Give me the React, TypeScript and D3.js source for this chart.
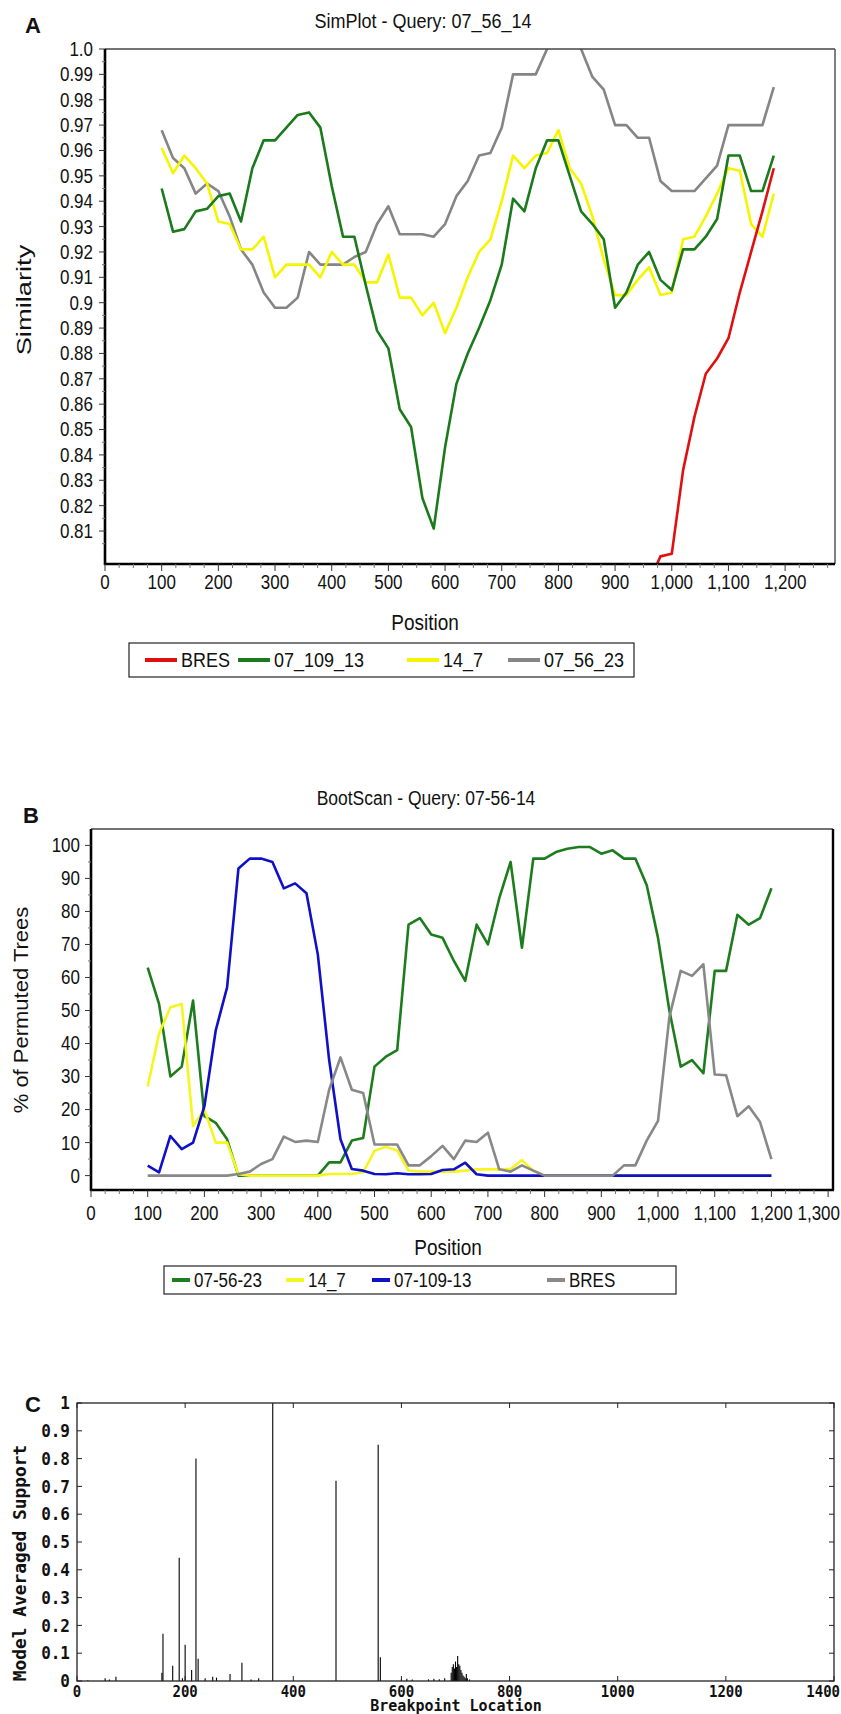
import React from 'react';
import * as d3 from 'd3';

const SANS = '"Liberation Sans", Arial, sans-serif';
const MONO = '"DejaVu Sans Mono", "Liberation Mono", monospace';

// ---------- A: SimPlot ----------
const simPositions = [100, 120, 140, 160, 180, 200, 220, 240, 260, 280, 300, 320, 340, 360, 380, 400, 420, 440, 460, 480, 500, 520, 540, 560, 580, 600, 620, 640, 660, 680, 700, 720, 740, 760, 780, 800, 820, 840, 860, 880, 900, 920, 940, 960, 980, 1000, 1020, 1040, 1060, 1080, 1100, 1120, 1140, 1160, 1180];
const sim07_109_13 = [0.945, 0.928, 0.929, 0.936, 0.937, 0.942, 0.943, 0.932, 0.953, 0.964, 0.964, 0.969, 0.974, 0.975, 0.969, 0.946, 0.926, 0.926, 0.907, 0.889, 0.882, 0.858, 0.851, 0.823, 0.811, 0.843, 0.868, 0.88, 0.89, 0.901, 0.915, 0.941, 0.936, 0.953, 0.964, 0.964, 0.95, 0.936, 0.931, 0.925, 0.898, 0.904, 0.915, 0.92, 0.909, 0.905, 0.921, 0.921, 0.926, 0.933, 0.958, 0.958, 0.944, 0.944, 0.958];
const sim14_7 = [0.961, 0.951, 0.958, 0.953, 0.947, 0.932, 0.931, 0.921, 0.921, 0.926, 0.91, 0.915, 0.915, 0.915, 0.91, 0.92, 0.915, 0.915, 0.908, 0.908, 0.919, 0.902, 0.902, 0.895, 0.9, 0.888, 0.898, 0.91, 0.92, 0.925, 0.94, 0.958, 0.953, 0.958, 0.959, 0.968, 0.953, 0.947, 0.934, 0.917, 0.903, 0.903, 0.909, 0.914, 0.903, 0.904, 0.925, 0.926, 0.934, 0.943, 0.953, 0.952, 0.931, 0.926, 0.943];
const sim07_56_23 = [0.968, 0.957, 0.953, 0.943, 0.947, 0.944, 0.934, 0.921, 0.915, 0.904, 0.898, 0.898, 0.902, 0.92, 0.915, 0.915, 0.915, 0.918, 0.92, 0.931, 0.938, 0.927, 0.927, 0.927, 0.926, 0.931, 0.942, 0.948, 0.958, 0.959, 0.969, 0.99, 0.99, 0.99, 1.0, 1.004, 1.004, 1.0, 0.989, 0.984, 0.97, 0.97, 0.965, 0.965, 0.948, 0.944, 0.944, 0.944, 0.949, 0.954, 0.97, 0.97, 0.97, 0.97, 0.985];
const simBresPositions = [960, 980, 1000, 1020, 1040, 1060, 1080, 1100, 1120, 1140, 1160, 1180];
const simBres = [0.79, 0.8, 0.801, 0.834, 0.855, 0.872, 0.878, 0.886, 0.904, 0.92, 0.936, 0.953];
const simYTickLabels = ['1.0', '0.99', '0.98', '0.97', '0.96', '0.95', '0.94', '0.93', '0.92', '0.91', '0.9', '0.89', '0.88', '0.87', '0.86', '0.85', '0.84', '0.83', '0.82', '0.81'];
const simXTickLabels = ['0', '100', '200', '300', '400', '500', '600', '700', '800', '900', '1,000', '1,100', '1,200'];

// ---------- B: BootScan ----------
const bootPositions = [100, 120, 140, 160, 180, 200, 220, 240, 260, 280, 300, 320, 340, 360, 380, 400, 420, 440, 460, 480, 500, 520, 540, 560, 580, 600, 620, 640, 660, 680, 700, 720, 740, 760, 780, 800, 820, 840, 860, 880, 900, 920, 940, 960, 980, 1000, 1020, 1040, 1060, 1080, 1100, 1120, 1140, 1160, 1180, 1200];
const boot07_56_23 = [63, 52, 30, 33, 53, 18, 16, 11, 0, 0, 0, 0, 0, 0, 0, 0, 4, 4, 10.6, 11.4, 33, 36, 38, 76, 78, 73, 72, 65, 59, 76, 70, 84, 95, 69, 96, 96, 98, 99, 99.5, 99.5, 97.5, 98.5, 96, 96, 88, 72, 50, 33, 35, 31, 62, 62, 79, 76, 78, 87];
const boot14_7 = [27, 43, 51, 52, 15, 20, 10, 10, 0.4, 0, 0, 0, 0, 0, 0, 0, 0.5, 0.5, 0.5, 1, 7.5, 8.7, 7.6, 1.5, 1.2, 1.2, 1.2, 1.2, 1.5, 1.9, 1.9, 1.9, 2, 4.7, 1.5, 0, 0, 0, 0, 0, 0, 0, 0, 0, 0, 0, 0, 0, 0, 0, 0, 0, 0, 0, 0, 0];
const boot07_109_13 = [3, 1, 12, 8, 10, 21, 44, 57, 93, 96, 96, 95, 87, 88.5, 85.5, 67, 35, 11, 2, 1.5, 0.5, 0.4, 0.7, 0.4, 0.4, 0.5, 1.7, 1.9, 3.9, 0.4, 0, 0, 0, 0, 0, 0, 0, 0, 0, 0, 0, 0, 0, 0, 0, 0, 0, 0, 0, 0, 0, 0, 0, 0, 0, 0];
const bootBres = [0, 0, 0, 0, 0, 0, 0, 0, 0.5, 1.2, 3.5, 5, 11.8, 10.2, 10.6, 10.2, 26, 35.8, 26, 25, 9.4, 9.4, 9.4, 3.1, 3.1, 5.9, 9, 5, 10.6, 10.2, 13, 1.9, 1.2, 3.1, 1.5, 0, 0, 0, 0, 0, 0, 0, 3.1, 3.1, 10.6, 16.6, 48, 62, 60.5, 64, 30.6, 30.4, 18, 21, 16.2, 5];
const bootYTickLabels = ['0', '10', '20', '30', '40', '50', '60', '70', '80', '90', '100'];
const bootXTickLabels = ['0', '100', '200', '300', '400', '500', '600', '700', '800', '900', '1,000', '1,100', '1,200', '1,300'];

// ---------- C: breakpoint support ----------
const bpLocation = [20, 52, 60, 72, 157, 159, 177, 189, 195, 200, 212, 220, 224, 237, 251, 258, 283, 305, 322, 336, 362, 479, 557, 561, 600, 610, 620, 650, 660, 670, 680, 692, 694, 696, 698, 700, 702, 704, 706, 708, 710, 712, 714, 716, 718, 720, 722, 726];
const bpSupport = [0.003, 0.01, 0.005, 0.015, 0.03, 0.17, 0.055, 0.443, 0.01, 0.13, 0.04, 0.8, 0.08, 0.01, 0.015, 0.012, 0.025, 0.066, 0.005, 0.01, 1.0, 0.72, 0.85, 0.085, 0.006, 0.008, 0.005, 0.006, 0.008, 0.006, 0.01, 0.03, 0.05, 0.06, 0.045, 0.07, 0.05, 0.09, 0.06, 0.055, 0.04, 0.03, 0.02, 0.015, 0.01, 0.025, 0.01, 0.005];
const bpYTickLabels = ['0', '0.1', '0.2', '0.3', '0.4', '0.5', '0.6', '0.7', '0.8', '0.9', '1'];
const bpXTickLabels = ['0', '200', '400', '600', '800', '1000', '1200', '1400'];

const num = (s: string) => Number(s.replace(/,/g, ''));

function Txt(p: { x: number; y: number; text: string; size: number; anchor?: string; weight?: any; family?: string; sx?: number; sy?: number; rotate?: number; fill?: string }) {
  const { x, y, text, size, anchor = 'middle', weight = 'normal', family = SANS, sx = 1, sy = 1, rotate = 0, fill = '#111' } = p;
  return (
    <text
      transform={`translate(${x},${y}) rotate(${rotate}) scale(${sx},${sy})`}
      textAnchor={anchor as any}
      dominantBaseline="central"
      fontSize={size}
      fontWeight={weight}
      fontFamily={family}
      fill={fill}
    >
      {text}
    </text>
  );
}

function makePath(x: any, y: any, pos: number[], vals: number[]) {
  const gen = d3.line<number>().x((d, i) => x(pos[i])).y(d => y(d));
  return gen(vals) || '';
}

function PanelA() {
  const L = 105, R = 835, T = 49, B = 564;
  const x = d3.scaleLinear().domain([0, 1288]).range([L, R]);
  const y = d3.scaleLinear().domain([0.797, 1.0]).range([B, T]);
  const minorX = d3.range(0, 1288, 25).filter(v => v % 100 !== 0);
  const minorY = simYTickLabels.map(s => num(s) - 0.005);
  const series = [
    { name: 'BRES', color: '#e01010', pos: simBresPositions, vals: simBres },
    { name: '07_109_13', color: '#1b7a1b', pos: simPositions, vals: sim07_109_13 },
    { name: '14_7', color: '#f5f500', pos: simPositions, vals: sim14_7 },
    { name: '07_56_23', color: '#858585', pos: simPositions, vals: sim07_56_23 },
  ];
  const drawOrder = [3, 2, 1, 0];
  const legendX = [145, 238, 407, 508];
  return (
    <g>
      <defs>
        <clipPath id="clipA">
          <rect x={L} y={T} width={R - L} height={B - T} />
        </clipPath>
      </defs>
      <Txt x={423} y={21} text="SimPlot - Query: 07_56_14" size={18} sy={1.15} />
      <Txt x={33} y={25} text="A" size={22} weight="bold" />
      <g clipPath="url(#clipA)">
        {drawOrder.map(i => (
          <path key={i} d={makePath(x, y, series[i].pos, series[i].vals)} fill="none" stroke={series[i].color} strokeWidth={2.6} strokeLinejoin="round" />
        ))}
      </g>
      <line x1={L} x2={R} y1={T} y2={T} stroke="#444" strokeWidth={1.5} />
      <line x1={R} x2={R} y1={T} y2={B} stroke="#555" strokeWidth={1.5} />
      <line x1={L} x2={L} y1={T} y2={B + 1} stroke="#000" strokeWidth={2.6} />
      <line x1={L - 1} x2={R} y1={B} y2={B} stroke="#000" strokeWidth={2.6} />
      {simYTickLabels.map(s => (
        <g key={s}>
          <line x1={L - 6} x2={L} y1={y(num(s))} y2={y(num(s))} stroke="#333" />
          <Txt x={L - 12} y={y(num(s))} text={s} size={17} anchor="end" sy={1.15} />
        </g>
      ))}
      {minorY.map(v => (
        <line key={v} x1={L - 3} x2={L} y1={y(v)} y2={y(v)} stroke="#777" />
      ))}
      {simXTickLabels.map(s => (
        <g key={s}>
          <line x1={x(num(s))} x2={x(num(s))} y1={B} y2={B + 7} stroke="#333" />
          <Txt x={x(num(s))} y={582} text={s} size={17} sy={1.15} />
        </g>
      ))}
      {minorX.map(v => (
        <line key={v} x1={x(v)} x2={x(v)} y1={B} y2={B + 4} stroke="#777" />
      ))}
      <Txt x={425} y={622} text="Position" size={19} sy={1.15} />
      <Txt x={24} y={300} text="Similarity" size={21} rotate={-90} sx={1.3} />
      <rect x={129} y={643} width={505} height={34} fill="#fff" stroke="#222" strokeWidth={1.2} />
      {series.map((s, i) => (
        <g key={s.name}>
          <line x1={legendX[i]} x2={legendX[i] + 32} y1={660} y2={660} stroke={s.color} strokeWidth={4} />
          <Txt x={legendX[i] + 36} y={660} text={s.name} size={18} anchor="start" sy={1.15} />
        </g>
      ))}
    </g>
  );
}

function PanelB() {
  const L = 91, R = 833, T = 829, B = 1190;
  const x = d3.scaleLinear().domain([0, 1308.6]).range([L, R]);
  const y = d3.scaleLinear().domain([0, 100]).range([1175.6, 845.4]);
  const minorX = d3.range(0, 1308, 25).filter(v => v % 100 !== 0);
  const series = [
    { name: '07-56-23', color: '#1d7d1d', vals: boot07_56_23 },
    { name: '14_7', color: '#f5f520', vals: boot14_7 },
    { name: '07-109-13', color: '#1010c8', vals: boot07_109_13 },
    { name: 'BRES', color: '#888888', vals: bootBres },
  ];
  const legendX = [172, 286, 372, 547];
  const lastX = bootXTickLabels.length - 1;
  return (
    <g>
      <Txt x={426} y={798} text="BootScan - Query: 07-56-14" size={17.5} sy={1.15} />
      <Txt x={31} y={815} text="B" size={22} weight="bold" />
      {series.map(s => (
        <path key={s.name} d={makePath(x, y, bootPositions, s.vals)} fill="none" stroke={s.color} strokeWidth={2.6} strokeLinejoin="round" />
      ))}
      <line x1={L} x2={R} y1={T} y2={T} stroke="#444" strokeWidth={1.5} />
      <line x1={R} x2={R} y1={T} y2={B} stroke="#000" strokeWidth={2.4} />
      <line x1={L} x2={L} y1={T} y2={B + 1} stroke="#000" strokeWidth={2.6} />
      <line x1={L - 1} x2={R + 1} y1={B} y2={B} stroke="#000" strokeWidth={2.6} />
      {bootYTickLabels.map(s => (
        <g key={s}>
          <line x1={L - 6} x2={L} y1={y(num(s))} y2={y(num(s))} stroke="#333" />
          <Txt x={L - 11} y={y(num(s))} text={s} size={17} anchor="end" sy={1.15} />
        </g>
      ))}
      {bootYTickLabels.slice(1).map(s => (
        <line key={s} x1={L - 3} x2={L} y1={y(num(s) - 5)} y2={y(num(s) - 5)} stroke="#777" />
      ))}
      {bootXTickLabels.map((s, i) => (
        <g key={s}>
          <line x1={x(num(s))} x2={x(num(s))} y1={B} y2={B + 7} stroke="#333" />
          <Txt
            x={i === lastX ? 840 : x(num(s))}
            y={1213}
            text={s}
            size={17}
            sy={1.15}
            anchor={i === lastX ? 'end' : 'middle'}
          />
        </g>
      ))}
      {minorX.map(v => (
        <line key={v} x1={x(v)} x2={x(v)} y1={B} y2={B + 4} stroke="#777" />
      ))}
      <Txt x={448} y={1247} text="Position" size={19} sy={1.15} />
      <Txt x={21} y={1010} text="% of Permuted Trees" size={20} rotate={-90} sx={1.1} />
      <rect x={164} y={1266} width={512} height={28} fill="#fff" stroke="#222" strokeWidth={1.2} />
      {series.map((s, i) => (
        <g key={s.name}>
          <line x1={legendX[i]} x2={legendX[i] + 18} y1={1280} y2={1280} stroke={s.color} strokeWidth={4} />
          <Txt x={legendX[i] + 22} y={1280} text={s.name} size={17} anchor="start" sy={1.15} />
        </g>
      ))}
    </g>
  );
}

function PanelC() {
  const L = 77, R = 834, T = 1403, B = 1681;
  const x = d3.scaleLinear().domain([0, 1400]).range([L, R]);
  const y = d3.scaleLinear().domain([0, 1]).range([B, T]);
  const lastX = bpXTickLabels.length - 1;
  return (
    <g>
      <Txt x={33} y={1404} text="C" size={22} weight="bold" />
      {bpLocation.map((p, i) => (
        <line key={i} x1={x(p)} x2={x(p)} y1={y(0)} y2={y(bpSupport[i])} stroke="#000" strokeWidth={1.1} />
      ))}
      <rect x={L} y={T} width={R - L} height={B - T} fill="none" stroke="#222" strokeWidth={1.3} />
      {bpYTickLabels.map(s => (
        <g key={s}>
          <line x1={L} x2={L + 5} y1={y(num(s))} y2={y(num(s))} stroke="#222" />
          <line x1={R - 5} x2={R} y1={y(num(s))} y2={y(num(s))} stroke="#222" />
          <Txt x={70} y={y(num(s))} text={s} size={16} anchor="end" weight="bold" family={MONO} sy={1.1} />
        </g>
      ))}
      {bpXTickLabels.map((s, i) => (
        <g key={s}>
          <line x1={x(num(s))} x2={x(num(s))} y1={B} y2={B - 5} stroke="#222" />
          <line x1={x(num(s))} x2={x(num(s))} y1={T} y2={T + 5} stroke="#222" />
          <Txt
            x={i === lastX ? 840 : x(num(s))}
            y={1691}
            text={s}
            size={14}
            weight="bold"
            family={MONO}
            sy={1.1}
            anchor={i === lastX ? 'end' : 'middle'}
          />
        </g>
      ))}
      <Txt x={20} y={1563} text="Model Averaged Support" size={17} rotate={-90} weight="bold" family={MONO} sx={1.05} />
      <Txt x={456} y={1705} text="Breakpoint Location" size={15} weight="bold" family={MONO} sy={1.1} />
    </g>
  );
}

export default function App() {
  return (
    <svg width={841} height={1714} style={{ position: 'absolute', left: 0, top: 0, background: '#fff' }}>
      <rect width={841} height={1714} fill="#fff" />
      <PanelA />
      <PanelB />
      <PanelC />
    </svg>
  );
}
